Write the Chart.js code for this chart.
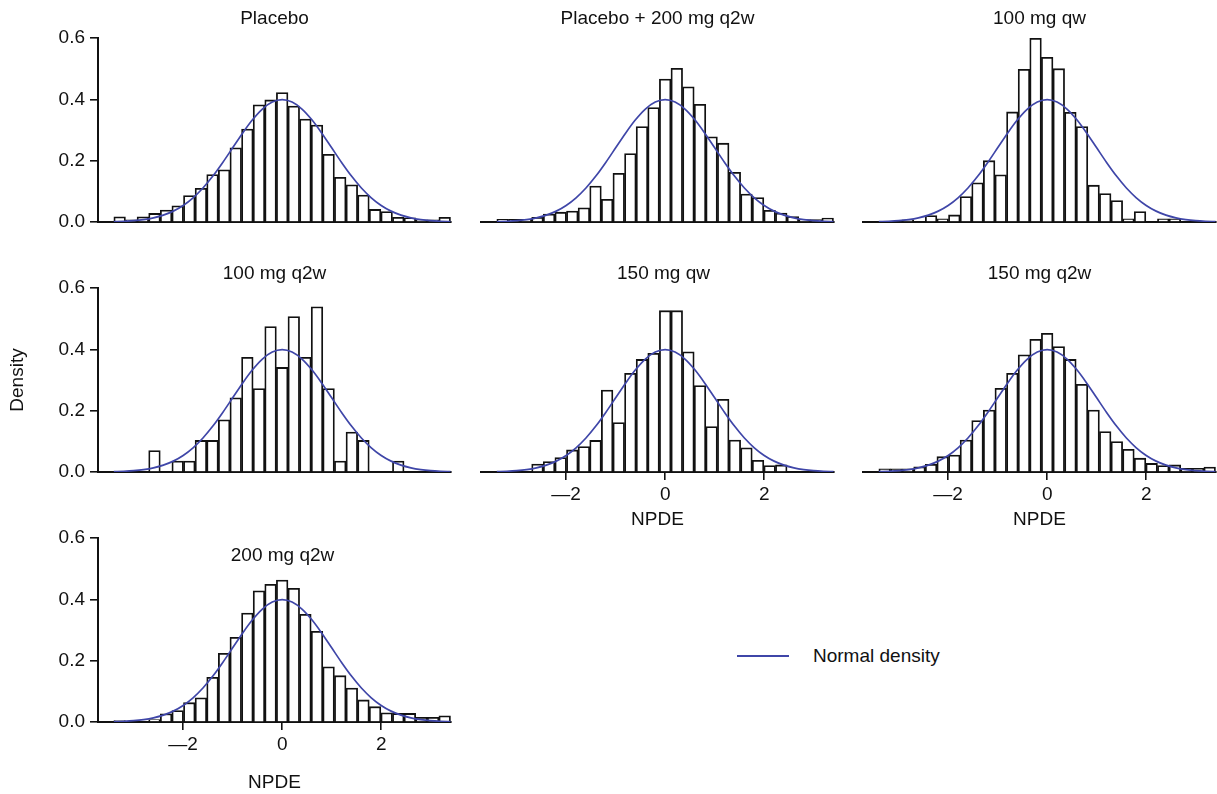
<!DOCTYPE html>
<html>
<head>
<meta charset="utf-8">
<script src="https://cdn.jsdelivr.net/npm/chart.js@4.4.1/dist/chart.umd.min.js"></script>
<style>
  html, body { margin: 0; padding: 0; background: #fff; overflow: hidden; }
  #fig { position: relative; width: 1217px; height: 794px; }
  #fig canvas { position: absolute; }
  #legend {
    position: absolute; left: 737px; top: 644px; height: 24px;
    display: flex; align-items: center;
    font-family: "Liberation Sans", Arial, Helvetica, sans-serif;
    font-size: 19px; color: #111;
  }
  #legend .swatch { display: inline-block; width: 52px; height: 2px; background: #3f46a8; margin-right: 24px; }
</style>
</head>
<body>
<div id="fig">
  <div id="legend"><span class="swatch"></span><span>Normal density</span></div>
</div>
<script>
// Histogram bins: 29 equal-width bins over the NPDE range
const binStart = -3.4;
const binEnd = 3.4;
const binCount = 29;

// Panel titles
const panelTitles = ['Placebo', 'Placebo + 200 mg q2w', '100 mg qw', '100 mg q2w', '150 mg qw', '150 mg q2w', '200 mg q2w'];

// Density per bin, one array per treatment arm
const placebo = [0.017, 0.007, 0.017, 0.028, 0.039, 0.053, 0.086, 0.110, 0.155, 0.170, 0.242, 0.303, 0.382, 0.398, 0.422,
                 0.378, 0.336, 0.316, 0.221, 0.146, 0.121, 0.088, 0.041, 0.034, 0.015, 0.014, 0.007, 0.007, 0.015];
const placeboPlus200q2w = [0.009, 0.009, 0.009, 0.015, 0.026, 0.032, 0.036, 0.046, 0.117, 0.074, 0.159, 0.223, 0.311, 0.373, 0.466,
                 0.501, 0.441, 0.384, 0.278, 0.257, 0.162, 0.091, 0.080, 0.038, 0.029, 0.018, 0.008, 0.008, 0.013];
const dose100qw = [0, 0, 0.007, 0, 0.021, 0.010, 0.023, 0.083, 0.128, 0.200, 0.154, 0.359, 0.498, 0.599, 0.537,
                 0.500, 0.358, 0.311, 0.120, 0.093, 0.070, 0.010, 0.034, 0, 0.010, 0.010, 0, 0, 0];
const dose100q2w = [0, 0, 0, 0.070, 0, 0.036, 0.036, 0.103, 0.103, 0.170, 0.242, 0.374, 0.272, 0.474, 0.341,
                 0.507, 0.374, 0.539, 0.272, 0.036, 0.130, 0.103, 0, 0, 0.036, 0, 0, 0, 0];
const dose150qw = [0, 0, 0, 0.026, 0.034, 0.047, 0.072, 0.083, 0.103, 0.267, 0.161, 0.322, 0.367, 0.387, 0.526,
                 0.526, 0.392, 0.282, 0.148, 0.237, 0.104, 0.079, 0.038, 0.021, 0.023, 0, 0, 0, 0];
const dose150q2w = [0.010, 0.010, 0.010, 0.017, 0.025, 0.050, 0.055, 0.104, 0.168, 0.202, 0.273, 0.322, 0.382, 0.433, 0.452,
                 0.409, 0.367, 0.286, 0.202, 0.132, 0.099, 0.074, 0.045, 0.028, 0.021, 0.023, 0.012, 0.012, 0.016];
const dose200q2w = [0.005, 0, 0, 0.008, 0.027, 0.037, 0.063, 0.079, 0.146, 0.224, 0.276, 0.355, 0.428, 0.449, 0.463,
                 0.436, 0.351, 0.296, 0.180, 0.151, 0.111, 0.072, 0.050, 0.030, 0.028, 0.028, 0.015, 0.015, 0.020];

// Standard normal density, tabulated every 0.2
const normalX = [-3.4, -3.2, -3.0, -2.8, -2.6, -2.4, -2.2, -2.0, -1.8, -1.6, -1.4, -1.2, -1.0, -0.8, -0.6, -0.4, -0.2, 0,
                 0.2, 0.4, 0.6, 0.8, 1.0, 1.2, 1.4, 1.6, 1.8, 2.0, 2.2, 2.4, 2.6, 2.8, 3.0, 3.2, 3.4];
const normalY = [0.0012, 0.0024, 0.0044, 0.0079, 0.0136, 0.0224, 0.0355, 0.0540, 0.0790, 0.1109, 0.1497, 0.1942, 0.2420,
                 0.2897, 0.3332, 0.3683, 0.3910, 0.3989, 0.3910, 0.3683, 0.3332, 0.2897, 0.2420, 0.1942, 0.1497, 0.1109,
                 0.0790, 0.0540, 0.0355, 0.0224, 0.0136, 0.0079, 0.0044, 0.0024, 0.0012];

// Axis ticks
const xTickValues = [-2, 0, 2];
const yTickValues = [0, 0.2, 0.4, 0.6];
const xAxisTitle = 'NPDE';
const yAxisTitle = 'Density';

// ---- styling and layout ----
const FONT = '"Liberation Sans", Arial, Helvetica, sans-serif';
const FONT_SIZE = 19;
const INK = '#111';
const CURVE = '#3f46a8';

const colLeft = [98, 481, 863];
const rowTop = [38, 288, 538];
const plotW = 353, plotH = 184;
const axisW = 100, headH = 40, footH = 80, rightPad = 6;

const binWidth = (binEnd - binStart) / binCount;
const binCenters = Array.from({ length: binCount }, (_, i) => binStart + binWidth * (i + 0.5));

const panels = [
  { title: panelTitles[0], values: placebo,           col: 0, row: 0, yAxis: true,  xTicks: false, tdx: 0, tdy: -14 },
  { title: panelTitles[1], values: placeboPlus200q2w, col: 1, row: 0, yAxis: false, xTicks: false, tdx: 0, tdy: -14 },
  { title: panelTitles[2], values: dose100qw,         col: 2, row: 0, yAxis: false, xTicks: false, tdx: 0, tdy: -14 },
  { title: panelTitles[3], values: dose100q2w,        col: 0, row: 1, yAxis: true,  xTicks: false, tdx: 0, tdy: -9, yTitle: true },
  { title: panelTitles[4], values: dose150qw,         col: 1, row: 1, yAxis: false, xTicks: true,  tdx: 6, tdy: -9, xTitlePad: 21 },
  { title: panelTitles[5], values: dose150q2w,        col: 2, row: 1, yAxis: false, xTicks: true,  tdx: 0, tdy: -9, xTitlePad: 21 },
  { title: panelTitles[6], values: dose200q2w,        col: 0, row: 2, yAxis: true,  xTicks: true,  tdx: 8, tdy: 23, xTitlePad: 8 }
];

// Draws each panel's heading relative to its plot area
const panelTitle = {
  id: 'panelTitle',
  afterDraw(chart, args, opts) {
    const { ctx, chartArea } = chart;
    ctx.save();
    ctx.font = `${FONT_SIZE}px ${FONT}`;
    ctx.fillStyle = INK;
    ctx.textAlign = 'center';
    ctx.textBaseline = 'alphabetic';
    ctx.fillText(opts.text, (chartArea.left + chartArea.right) / 2 + opts.dx, chartArea.top + opts.dy);
    ctx.restore();
  }
};

const fig = document.getElementById('fig');

panels.forEach((p) => {
  const canvas = document.createElement('canvas');
  const w = axisW + plotW + rightPad;
  const h = headH + plotH + footH;
  canvas.width = w;
  canvas.height = h;
  canvas.style.left = (colLeft[p.col] - axisW) + 'px';
  canvas.style.top = (rowTop[p.row] - headH) + 'px';
  fig.appendChild(canvas);

  const bars = binCenters.map((c, i) => ({ x: c, y: p.values[i] > 0 ? p.values[i] : null }));
  const curve = normalX.map((x, i) => ({ x, y: normalY[i] }));

  new Chart(canvas, {
    type: 'bar',
    data: {
      datasets: [
        {
          type: 'line',
          label: 'Normal density',
          data: curve,
          borderColor: CURVE,
          borderWidth: 1.7,
          pointRadius: 0,
          fill: false,
          cubicInterpolationMode: 'monotone',
          order: 0
        },
        {
          type: 'bar',
          label: p.title,
          data: bars,
          backgroundColor: '#fff',
          borderColor: INK,
          borderWidth: 1.8,
          barPercentage: 1,
          categoryPercentage: 1,
          order: 1
        }
      ]
    },
    options: {
      responsive: false,
      animation: false,
      devicePixelRatio: 1,
      layout: { padding: { left: 0, top: headH, right: rightPad, bottom: 0 } },
      plugins: {
        legend: { display: false },
        tooltip: { enabled: false },
        panelTitle: { text: p.title, dx: p.tdx, dy: p.tdy }
      },
      scales: {
        x: {
          type: 'linear',
          min: -3.72,
          max: 3.41,
          offset: false,
          z: 1,
          afterFit: (s) => { s.height = footH; },
          afterBuildTicks: (s) => { s.ticks = xTickValues.map((v) => ({ value: v })); },
          border: { display: true, color: INK, width: 2 },
          grid: { offset: false, drawOnChartArea: false, drawTicks: p.xTicks, tickLength: 8, color: INK, lineWidth: 1.6 },
          ticks: {
            display: p.xTicks,
            padding: 3,
            color: INK,
            font: { family: FONT, size: FONT_SIZE },
            maxRotation: 0,
            callback: (v) => (v < 0 ? '\u2014' + Math.abs(v) : String(v))
          },
          title: {
            display: p.xTicks,
            text: xAxisTitle,
            color: INK,
            font: { family: FONT, size: FONT_SIZE },
            padding: { top: 0, bottom: p.xTitlePad || 0 }
          }
        },
        y: {
          type: 'linear',
          min: 0,
          max: 0.6,
          z: 1,
          afterFit: (s) => { s.width = axisW; },
          afterBuildTicks: (s) => { s.ticks = yTickValues.map((v) => ({ value: v })); },
          border: { display: p.yAxis, color: INK, width: 2 },
          grid: { drawOnChartArea: false, drawTicks: p.yAxis, tickLength: 8, color: INK, lineWidth: 1.6 },
          ticks: {
            display: p.yAxis,
            padding: 5,
            color: INK,
            font: { family: FONT, size: FONT_SIZE },
            callback: (v) => v.toFixed(1)
          },
          title: {
            display: !!p.yTitle,
            text: yAxisTitle,
            color: INK,
            font: { family: FONT, size: FONT_SIZE },
            padding: { top: 8, bottom: 0 }
          }
        }
      }
    },
    plugins: [panelTitle]
  });
});
</script>
</body>
</html>
